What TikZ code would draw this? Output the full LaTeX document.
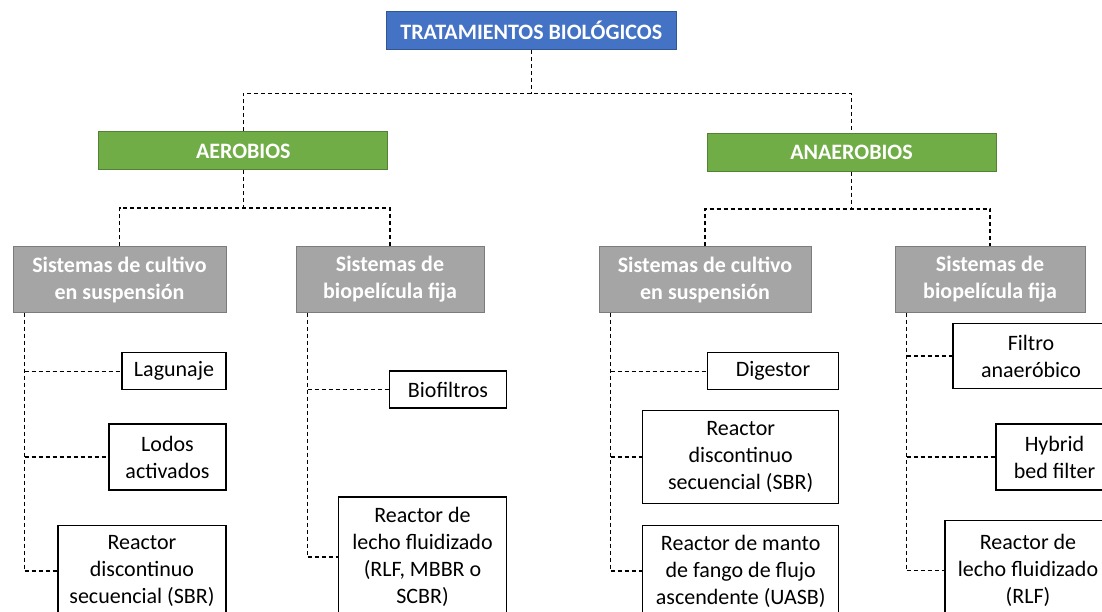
\documentclass[tikz,border=0pt]{standalone}
\usepackage{fontspec}
\setmainfont{Carlito}
\usetikzlibrary{positioning}
\definecolor{trablue}{HTML}{4472C4}
\definecolor{bioggreen}{HTML}{70AD47}
\definecolor{sysgray}{HTML}{A5A5A5}

\begin{document}
\begin{tikzpicture}[x=1pt, y=-1pt,
  every node/.style={font=\fontsize{22}{27}\selectfont, align=center, inner sep=0pt},
  head/.style={draw=#1!75!black, fill=#1, text=white, line width=1pt,
    font=\fontsize{22}{27}\selectfont\bfseries},
  leaf/.style={draw, fill=white, line width=1.2pt},
  link/.style={dash pattern=on 4pt off 3pt, line width=1.1pt}]
\useasboundingbox (0,0) rectangle (1102,612);
\clip (0,0) rectangle (1102,612);
\node[head=trablue, minimum width=289.5, minimum height=37.6] (trat) at (531.25,30.5) {TRATAMIENTOS BIOLÓGICOS};
\node[head=bioggreen, minimum width=289.3, minimum height=38] (aer) at (243.3,151) {AEROBIOS};
\node[head=bioggreen, minimum width=289, minimum height=37.5] (anaer) at (851.5,152.3) {ANAEROBIOS};
\node[head=sysgray, minimum width=213, minimum height=65] (A1) at (119.5,279.5) {Sistemas de cultivo\\en suspensión};
\node[head=sysgray, minimum width=188, minimum height=65] (A2) at (390,279.5) {Sistemas de\\biopelícula fija};
\node[head=sysgray, minimum width=212, minimum height=65] (N1) at (705,279.5) {Sistemas de cultivo\\en suspensión};
\node[head=sysgray, minimum width=190, minimum height=65] (N2) at (990,279.5) {Sistemas de\\biopelícula fija};
\node[leaf, minimum width=104, minimum height=37] (lag) at (174,371.3) {Lagunaje};
\node[leaf, minimum width=117, minimum height=66] (lod) at (167.5,457) {Lodos\\activados};
\node[leaf, minimum width=168, minimum height=91] (sbrA) at (142,571) {Reactor\\discontinuo\\secuencial (SBR)};
\node[leaf, minimum width=117, minimum height=37] (bio) at (448,389.5) {Biofiltros};
\node[leaf, minimum width=168, minimum height=120] (rlfA) at (422.5,557) {Reactor de\\lecho fluidizado\\(RLF, MBBR o\\SCBR)};
\node[leaf, minimum width=131, minimum height=37] (dig) at (773,371.3) {Digestor};
\node[leaf, minimum width=196, minimum height=93] (sbrN) at (740.7,457) {Reactor\\discontinuo\\secuencial (SBR)};
\node[leaf, minimum width=196, minimum height=91] (uasb) at (740.7,571) {Reactor de manto\\de fango de flujo\\ascendente (UASB)};
\node[leaf, minimum width=156, minimum height=65] (fil) at (1031,356) {Filtro\\anaeróbico};
\node[leaf, minimum width=117, minimum height=66] (hyb) at (1054.5,457) {Hybrid\\bed filter};
\node[leaf, minimum width=166, minimum height=101] (rlfN) at (1028,570.7) {Reactor de\\lecho fluidizado\\(RLF)};
\coordinate (tj) at (531.25,93.5);
\coordinate (aj) at (243.3,208);
\coordinate (nj) at (851.5,209);
\draw[link] (trat.south) -- (tj);
\draw[link] (aer.north) |- (tj) -| (anaer.north);
\draw[link] (aer.south) -- (aj);
\draw[link] (A1.north) |- (aj) -| (A2.north);
\draw[link] (anaer.south) -- (nj);
\draw[link] (N1.north) |- (nj) -| (N2.north);
\foreach \g/\l in {A1/sbrA, A2/rlfA, N1/uasb, N2/rlfN}
  \draw[link] ([xshift=12]\g.south west) -- ([xshift=12]\g.south west |- \l.west);
\foreach \g/\l in {A1/lag, A1/lod, A1/sbrA, A2/bio, A2/rlfA, N1/dig, N1/sbrN, N1/uasb, N2/fil, N2/hyb, N2/rlfN}
  \draw[link] ([xshift=12]\g.south west |- \l.west) -- (\l.west);
\end{tikzpicture}
\end{document}
